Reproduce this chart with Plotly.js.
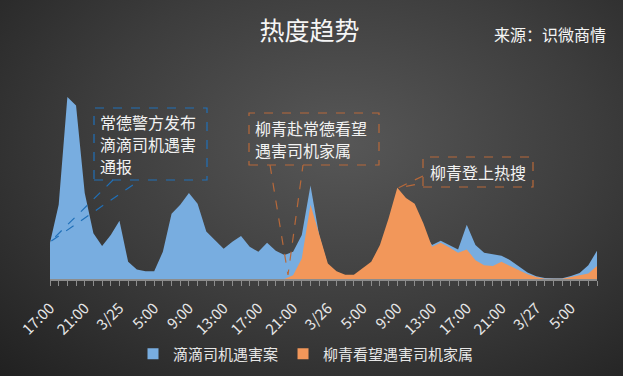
<!DOCTYPE html>
<html><head><meta charset="utf-8">
<script src="https://cdn.plot.ly/plotly-3.0.1.min.js"></script>
<style>
html,body{margin:0;padding:0;width:623px;height:376px;overflow:hidden;}
body{background: radial-gradient(ellipse 80% 90% at 55% 38%, #575757 0%, #3d3d3d 50%, #1f1f1f 100%);}
#chart{width:623px;height:376px;}
</style></head><body><div id="chart"></div>
<script>
// ---- data ----
const tickLabels = ["17:00","21:00","3/25","5:00","9:00","13:00","17:00","21:00","3/26","5:00","9:00","13:00","17:00","21:00","3/27","5:00"];
const labelEvery = 4;
const blueName = "滴滴司机遇害案";
const orangeName = "柳青看望遇害司机家属";
const blueValues = [108,221,541,516,256,136,98,131,173,51,28,23,23,81,194,221,256,224,141,114,90,111,128,96,81,108,84,71,81,131,278,130,40,20,10,10,25,45,90,160,240,220,200,140,101,114,101,88,161,101,78,73,69,56,38,19,8,3,2,2,9,18,41,84];
const orangeValues = [0,0,0,0,0,0,0,0,0,0,0,0,0,0,0,0,0,0,0,0,0,0,0,0,0,0,0,0,11,61,221,136,46,23,13,13,31,51,101,181,271,241,224,166,96,108,94,78,88,56,41,39,51,38,26,14,6,1,1,1,6,10,16,39];
const titleText = "热度趋势";
const sourceText = "来源：识微商情";
const note1Lines = ["常德警方发布", "滴滴司机遇害", "通报"];
const note2Lines = ["柳青赴常德看望", "遇害司机家属"];
const note3 = "柳青登上热搜";

// ---- layout helpers ----
const W = 623, H = 376;
const L = 50, R = 26, T = 90, B = 97;
const pw = W - L - R, ph = H - T - B;
const fx = px => (px - L) / pw;
const fy = py => (H - B - py) / ph;

const xs = blueValues.map((_, i) => i);
const tickvals = xs;
const ticktext = xs.map(i => (i % labelEvery === 0 && tickLabels[i / labelEvery] !== undefined) ? tickLabels[i / labelEvery] : "");

const BLUE = "#78ADE0", ORANGE = "#F2975A";
const FONT = "Noto Sans CJK SC, Noto Sans, sans-serif";

const traces = [
  {x: xs, y: blueValues, type: "scatter", mode: "lines", fill: "tozeroy", fillcolor: BLUE, line: {width: 0, color: BLUE}, showlegend: false, name: blueName, hoverinfo: "skip"},
  {x: xs, y: orangeValues, type: "scatter", mode: "lines", fill: "tozeroy", fillcolor: ORANGE, line: {width: 0, color: ORANGE}, showlegend: false, name: orangeName, hoverinfo: "skip"},
  {x: [null], y: [null], type: "scatter", mode: "markers", marker: {symbol: "square", size: 11, color: BLUE}, name: blueName, showlegend: true},
  {x: [null], y: [null], type: "scatter", mode: "markers", marker: {symbol: "square", size: 11, color: ORANGE}, name: orangeName, showlegend: true}
];

const dashBlue = "#2070B8", dashOrange = "#B8693A";
function rect(x0, y0, x1, y1, c) {
  return {type: "rect", xref: "paper", yref: "paper", x0: fx(x0), x1: fx(x1), y0: fy(y1), y1: fy(y0), line: {color: c, width: 1.2, dash: "dash"}, fillcolor: "rgba(0,0,0,0)"};
}
function wedge(pts, c) {
  const d = pts.map((p, k) => (k ? "L" : "M") + fx(p[0]) + "," + fy(p[1])).join(" ");
  return {type: "path", xref: "paper", yref: "paper", path: d, line: {color: c, width: 1.2, dash: "dash"}};
}
function noteLine(text, px, py, anchor) {
  return {text: text, xref: "paper", yref: "paper", x: fx(px), y: fy(py), xanchor: anchor, yanchor: "middle", showarrow: false, borderpad: 0, font: {size: 16, color: "#F2F2F2", family: FONT}};
}

const annotations = [
  {text: sourceText, xref: "paper", yref: "paper", x: fx(608), y: fy(34), xanchor: "right", yanchor: "middle", showarrow: false, font: {size: 16, color: "#F5F5F5", family: FONT}}
];
note1Lines.forEach((t, k) => annotations.push(noteLine(t, 99, 122 + 22 * k, "left")));
note2Lines.forEach((t, k) => annotations.push(noteLine(t, 254, 128 + 22 * k, "left")));
annotations.push(noteLine(note3, 478, 172, "center"));

const layout = {
  width: W, height: H,
  margin: {l: L, r: R, t: T, b: B, autoexpand: false},
  paper_bgcolor: "rgba(0,0,0,0)", plot_bgcolor: "rgba(0,0,0,0)",
  font: {family: FONT, color: "#EDEDED"},
  title: {text: titleText, font: {size: 25, color: "#F5F5F5", family: FONT}, x: 0.497, xanchor: "center", y: 0.918, yanchor: "middle", automargin: false},
  xaxis: {
    range: [0, xs.length - 1], tickmode: "array", tickvals: tickvals, ticktext: ticktext,
    tickangle: -45, ticks: "outside", ticklen: 5, tickcolor: "#8C8C8C", tickwidth: 1,
    showline: true, linecolor: "#8C8C8C", linewidth: 1.5, showgrid: false, zeroline: false,
    automargin: false, ticklabelstandoff: 8,
    tickfont: {size: 15, color: "#E6E6E6", family: FONT}, fixedrange: true
  },
  yaxis: {range: [0, 562], visible: false, showgrid: false, zeroline: false, fixedrange: true, automargin: false},
  showlegend: true,
  legend: {orientation: "h", x: fx(306), xanchor: "center", xref: "paper", y: fy(354), yanchor: "middle", font: {size: 15, color: "#E6E6E6", family: FONT}, itemwidth: 30, tracegroupgap: 0, bgcolor: "rgba(0,0,0,0)"},
  shapes: [
    rect(94, 108, 207, 180, dashBlue),
    wedge([[113, 180], [50, 242], [140, 180]], dashBlue),
    rect(249, 113, 379, 165, dashOrange),
    wedge([[270, 165], [288, 275], [303, 165]], dashOrange),
    rect(423, 157, 533, 187, dashOrange),
    wedge([[423, 176], [398, 188], [423, 183]], dashOrange)
  ],
  annotations: annotations
};

Plotly.newPlot("chart", traces, layout, {displayModeBar: false, staticPlot: true});
</script>
</body></html>
